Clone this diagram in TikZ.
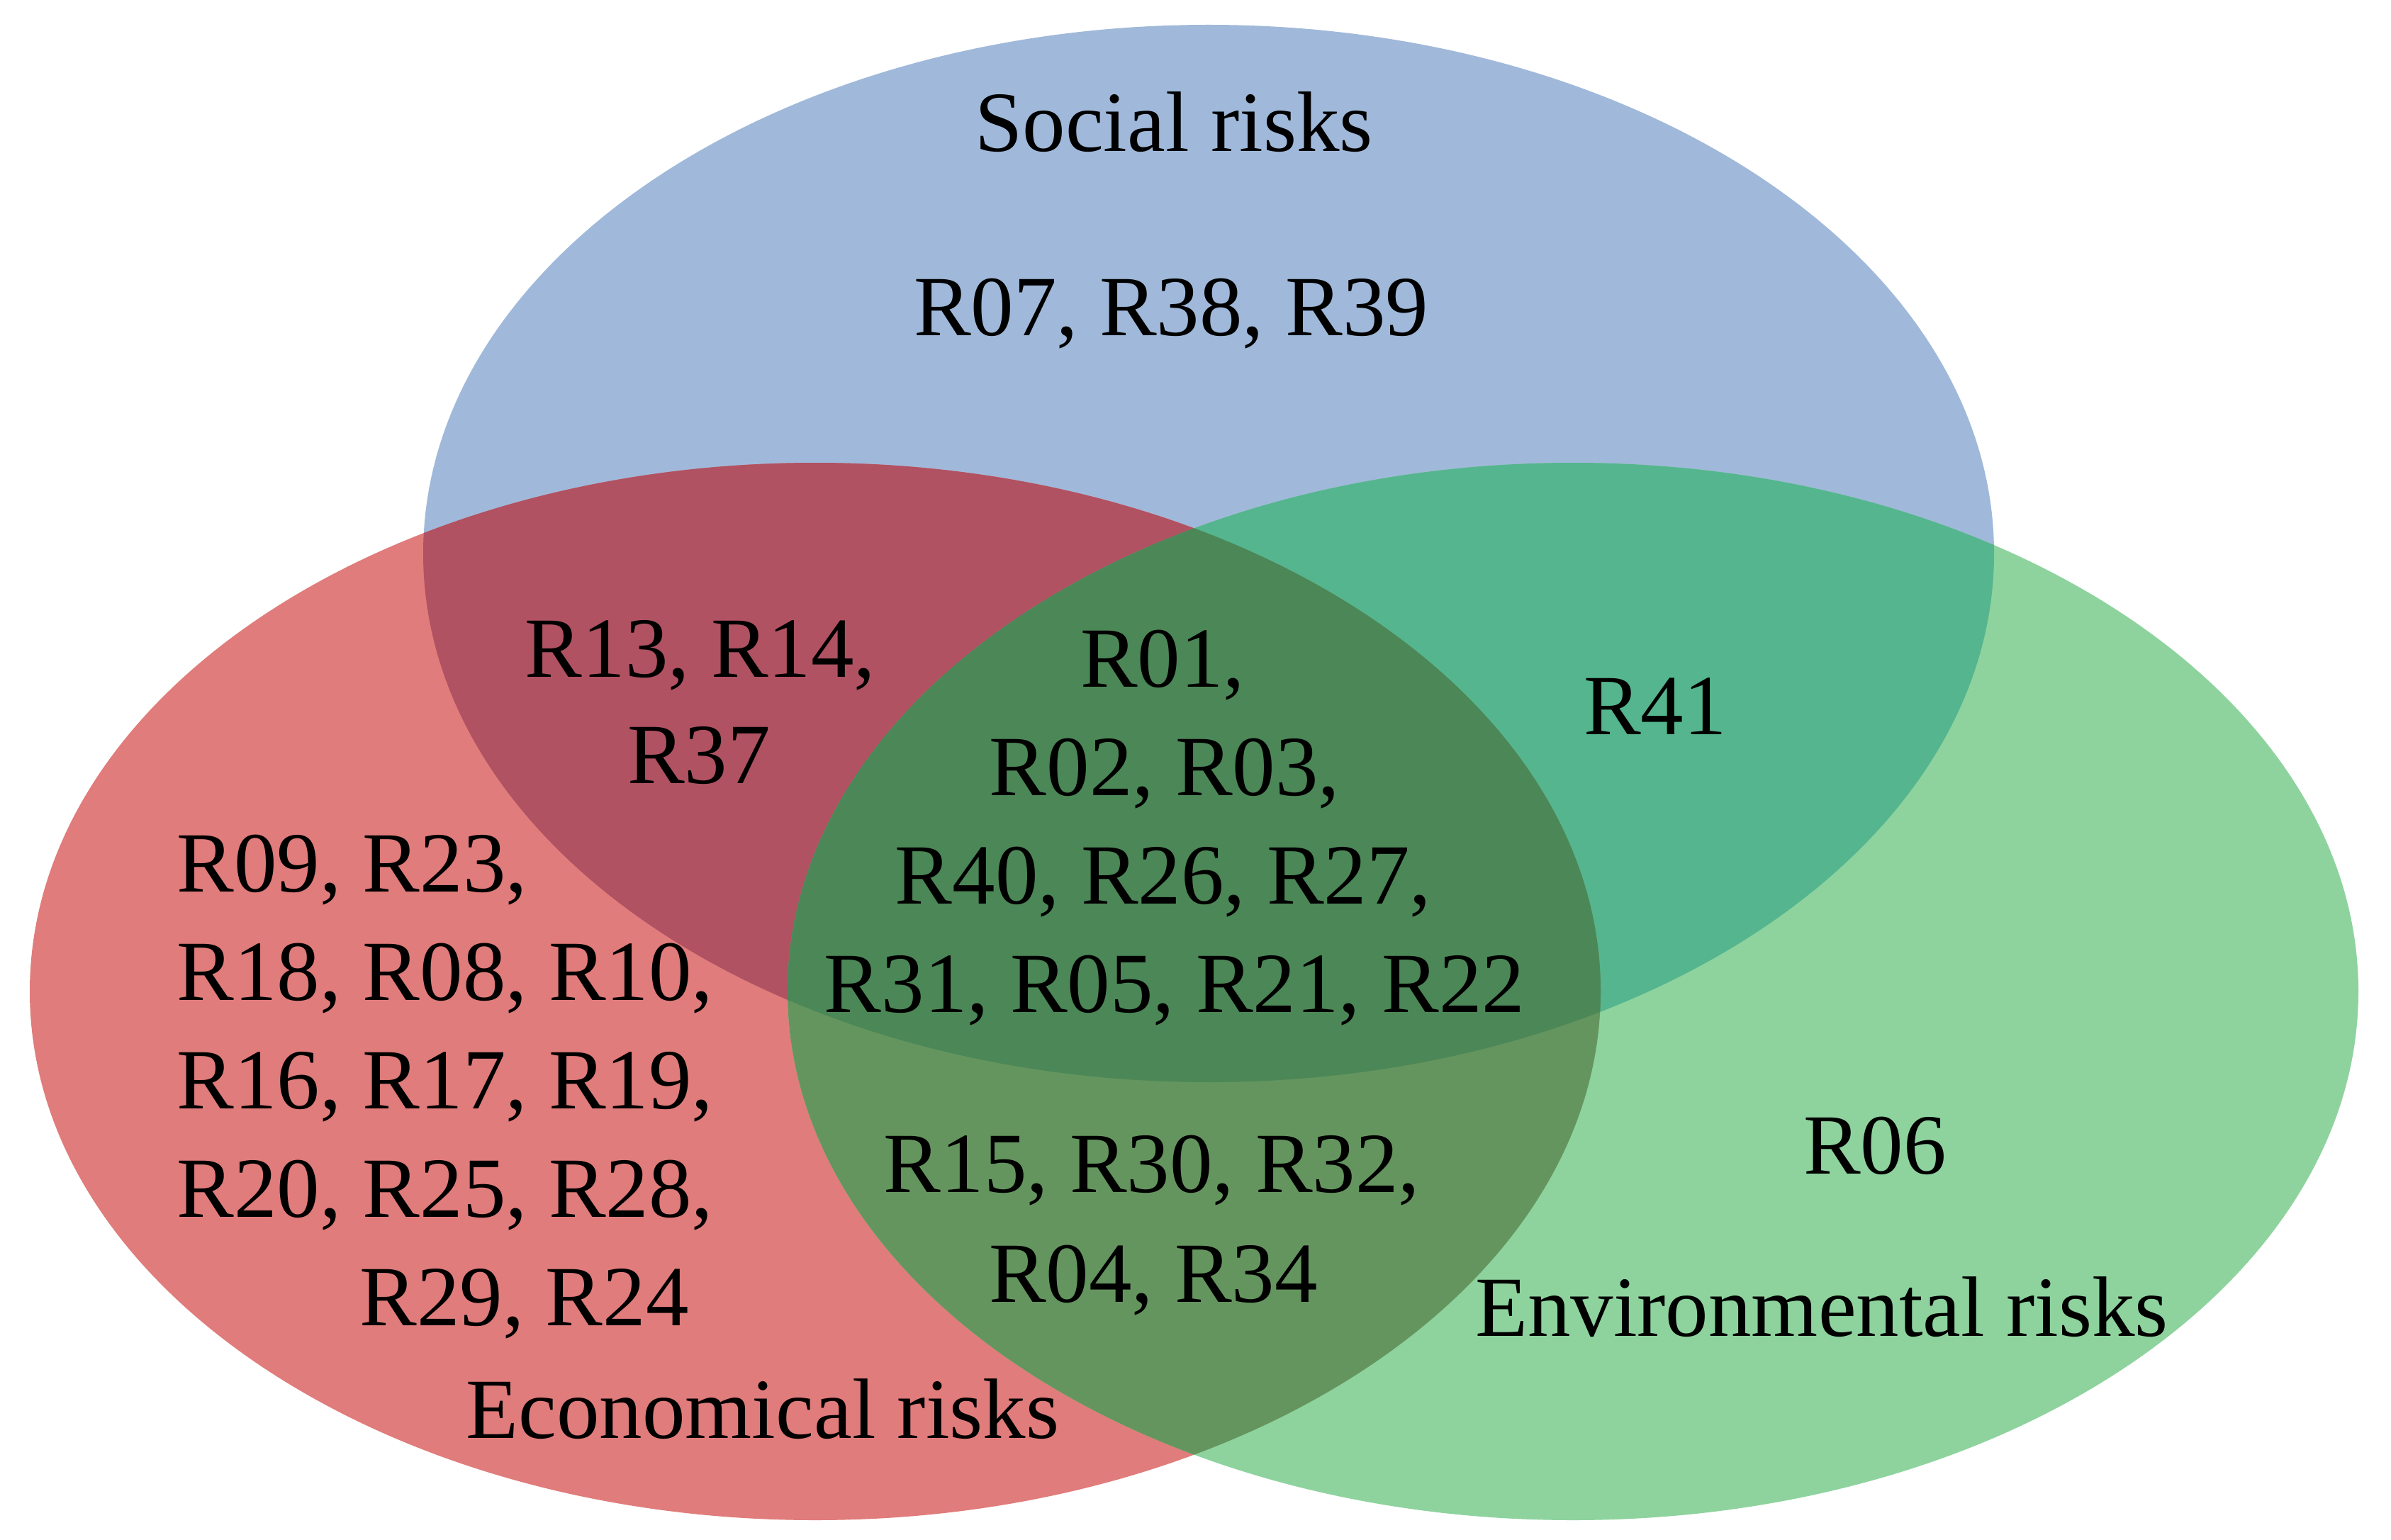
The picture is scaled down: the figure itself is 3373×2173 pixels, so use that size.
\documentclass[tikz,border=0pt]{standalone}
\usepackage{fontspec}
\setmainfont{Liberation Serif}
\definecolor{cBlue}{HTML}{A0B9DA}
\definecolor{cRed}{HTML}{E07C7B}
\definecolor{cGreen}{HTML}{8ED39E}
\definecolor{cRB}{HTML}{B05262}
\definecolor{cGB}{HTML}{55B58E}
\definecolor{cRG}{HTML}{65955F}
\definecolor{cRGB}{HTML}{4C8757}
\tikzset{
  lbl/.style={inner sep=0pt, anchor=base, text=black, font=\fontsize{34.4}{43.5}\selectfont},
  lblw/.style={lbl, anchor=base west}
}
\def\EB{(1705,781) ellipse [x radius=1108, y radius=746]}
\def\ER{(1150,1399) ellipse [x radius=1108, y radius=746]}
\def\EG{(2219,1399) ellipse [x radius=1108, y radius=746]}
\begin{document}
\begin{tikzpicture}[x=0.01cm,y=-0.01cm]
\useasboundingbox (0,0) rectangle (3373,2173);
% base ellipses
\fill[cBlue] \EB;
\fill[cRed] \ER;
\fill[cGreen] \EG;
% pairwise overlaps
\begin{scope}
  \clip \EB;
  \fill[cRB] \ER;
  \fill[cGB] \EG;
\end{scope}
\begin{scope}
  \clip \ER;
  \fill[cRG] \EG;
\end{scope}
\begin{scope}
  \clip \EB;
  \clip \ER;
  \fill[cRGB] \EG;
\end{scope}
% titles
\node[lbl] (social) at (1656,214) {Social risks};
\node[lbl] (econ) at (1076,2029) {Economical risks};
\node[lbl] (env) at (2570,1885) {Environmental risks};
% social only
\node[lbl] (s1) at (1652,473) {R07, R38, R39};
% social & economical
\node[lbl] (rb1) at (988,955) {R13, R14,};
\node[lbl] (rb2) at (986,1105) {R37};
% all three
\node[lbl] (c1) at (1640,969) {R01,};
\node[lbl] (c2) at (1643,1122) {R02, R03,};
\node[lbl] (c3) at (1641,1275) {R40, R26, R27,};
\node[lbl] (c4) at (1657,1428) {R31, R05, R21, R22};
% social & environmental
\node[lbl] (gb1) at (2335,1036) {R41};
% economical only
\node[lblw] (e1) at (249,1258) {R09, R23,};
\node[lblw] (e2) at (249,1411) {R18, R08, R10,};
\node[lblw] (e3) at (249,1564) {R16, R17, R19,};
\node[lblw] (e4) at (249,1717) {R20, R25, R28,};
\node[lblw] (e5) at (507,1870) {R29, R24};
% economical & environmental
\node[lbl] (rg1) at (1625,1682) {R15, R30, R32,};
\node[lbl] (rg2) at (1627,1837) {R04, R34};
% environmental only
\node[lbl] (g1) at (2645,1656) {R06};
\end{tikzpicture}
\end{document}
